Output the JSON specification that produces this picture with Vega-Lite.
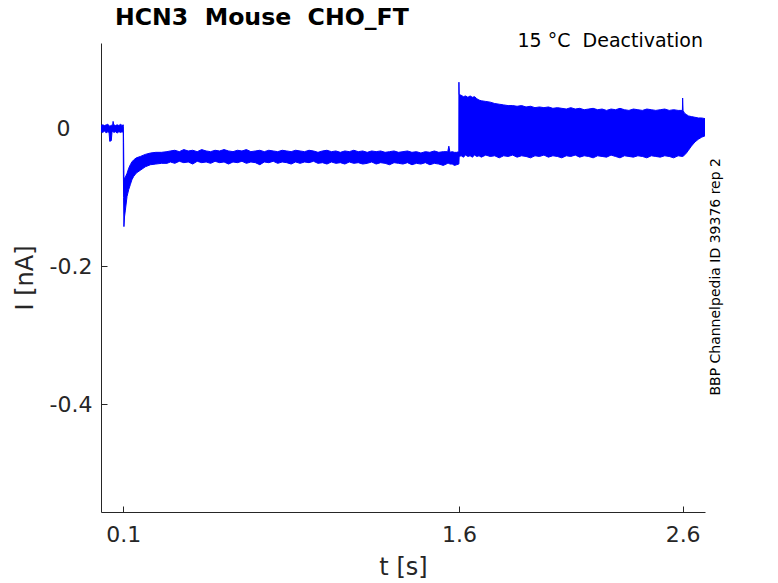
{
  "$schema": "https://vega.github.io/schema/vega-lite/v6.json",
  "width": 604,
  "height": 469,
  "autosize": "none",
  "padding": {"left": 101, "top": 43, "right": 73, "bottom": 71},
  "background": "white",
  "config": {
    "view": {"stroke": null},
    "font": "DejaVu Sans",
    "axis": {
      "grid": false,
      "domainColor": "#262626",
      "tickColor": "#262626",
      "labelColor": "#262626",
      "titleColor": "#262626",
      "labelFontSize": 22,
      "titleFontSize": 24,
      "titleFontWeight": "normal",
      "labelFlush": false,
      "tickSize": -6
    }
  },
  "title": {
    "text": "HCN3\u00a0 Mouse\u00a0 CHO_FT",
    "frame": "group",
    "anchor": "start",
    "dx": 14,
    "dy": 20,
    "offset": 3,
    "baseline": "alphabetic",
    "fontSize": 23.6,
    "fontWeight": "bold",
    "color": "#000000"
  },
  "datasets": {
    "trace": [
      {"t": 0.000, "lo": -0.004, "hi": 0.005},
      {"t": 0.008, "lo": -0.005, "hi": 0.006},
      {"t": 0.016, "lo": -0.003, "hi": 0.005},
      {"t": 0.024, "lo": -0.006, "hi": 0.006},
      {"t": 0.030, "lo": -0.004, "hi": 0.007},
      {"t": 0.036, "lo": -0.005, "hi": 0.005},
      {"t": 0.039, "lo": -0.018, "hi": 0.004},
      {"t": 0.046, "lo": -0.017, "hi": 0.005},
      {"t": 0.049, "lo": -0.005, "hi": 0.006},
      {"t": 0.052, "lo": -0.004, "hi": 0.005},
      {"t": 0.054, "lo": -0.004, "hi": 0.011},
      {"t": 0.057, "lo": -0.005, "hi": 0.006},
      {"t": 0.065, "lo": -0.004, "hi": 0.005},
      {"t": 0.072, "lo": -0.006, "hi": 0.006},
      {"t": 0.080, "lo": -0.004, "hi": 0.005},
      {"t": 0.088, "lo": -0.005, "hi": 0.007},
      {"t": 0.094, "lo": -0.004, "hi": 0.005},
      {"t": 0.0995, "lo": -0.005, "hi": 0.006},
      {"t": 0.100, "lo": -0.060, "hi": 0.004},
      {"t": 0.101, "lo": -0.100, "hi": -0.020},
      {"t": 0.1025, "lo": -0.142, "hi": -0.070},
      {"t": 0.105, "lo": -0.128, "hi": -0.072},
      {"t": 0.109, "lo": -0.118, "hi": -0.070},
      {"t": 0.1165, "lo": -0.098, "hi": -0.0645},
      {"t": 0.124, "lo": -0.088, "hi": -0.057},
      {"t": 0.131, "lo": -0.081, "hi": -0.052},
      {"t": 0.138, "lo": -0.074, "hi": -0.048},
      {"t": 0.146, "lo": -0.069, "hi": -0.045},
      {"t": 0.158, "lo": -0.064, "hi": -0.042},
      {"t": 0.176, "lo": -0.060, "hi": -0.040},
      {"t": 0.198, "lo": -0.055, "hi": -0.037},
      {"t": 0.221, "lo": -0.052, "hi": -0.035},
      {"t": 0.245, "lo": -0.051, "hi": -0.034},
      {"t": 0.270, "lo": -0.050, "hi": -0.034},
      {"t": 0.295, "lo": -0.050, "hi": -0.033},
      {"t": 0.31, "lo": -0.048, "hi": -0.032},
      {"t": 0.33, "lo": -0.050, "hi": -0.031},
      {"t": 0.35, "lo": -0.047, "hi": -0.033},
      {"t": 0.37, "lo": -0.049, "hi": -0.030},
      {"t": 0.39, "lo": -0.048, "hi": -0.032},
      {"t": 0.41, "lo": -0.051, "hi": -0.031},
      {"t": 0.43, "lo": -0.047, "hi": -0.033},
      {"t": 0.45, "lo": -0.049, "hi": -0.030},
      {"t": 0.47, "lo": -0.048, "hi": -0.032},
      {"t": 0.49, "lo": -0.050, "hi": -0.033},
      {"t": 0.51, "lo": -0.047, "hi": -0.031},
      {"t": 0.53, "lo": -0.049, "hi": -0.032},
      {"t": 0.55, "lo": -0.048, "hi": -0.030},
      {"t": 0.57, "lo": -0.051, "hi": -0.032},
      {"t": 0.59, "lo": -0.048, "hi": -0.033},
      {"t": 0.61, "lo": -0.049, "hi": -0.031},
      {"t": 0.63, "lo": -0.047, "hi": -0.032},
      {"t": 0.65, "lo": -0.050, "hi": -0.030},
      {"t": 0.67, "lo": -0.048, "hi": -0.033},
      {"t": 0.69, "lo": -0.049, "hi": -0.032},
      {"t": 0.71, "lo": -0.052, "hi": -0.031},
      {"t": 0.73, "lo": -0.048, "hi": -0.033},
      {"t": 0.75, "lo": -0.049, "hi": -0.031},
      {"t": 0.77, "lo": -0.047, "hi": -0.032},
      {"t": 0.79, "lo": -0.050, "hi": -0.033},
      {"t": 0.81, "lo": -0.048, "hi": -0.031},
      {"t": 0.83, "lo": -0.049, "hi": -0.032},
      {"t": 0.85, "lo": -0.051, "hi": -0.033},
      {"t": 0.87, "lo": -0.048, "hi": -0.031},
      {"t": 0.89, "lo": -0.050, "hi": -0.032},
      {"t": 0.91, "lo": -0.048, "hi": -0.033},
      {"t": 0.93, "lo": -0.049, "hi": -0.031},
      {"t": 0.95, "lo": -0.047, "hi": -0.032},
      {"t": 0.97, "lo": -0.050, "hi": -0.034},
      {"t": 0.99, "lo": -0.049, "hi": -0.032},
      {"t": 1.01, "lo": -0.051, "hi": -0.031},
      {"t": 1.03, "lo": -0.048, "hi": -0.033},
      {"t": 1.05, "lo": -0.050, "hi": -0.032},
      {"t": 1.07, "lo": -0.049, "hi": -0.034},
      {"t": 1.09, "lo": -0.051, "hi": -0.032},
      {"t": 1.11, "lo": -0.048, "hi": -0.033},
      {"t": 1.13, "lo": -0.050, "hi": -0.031},
      {"t": 1.15, "lo": -0.049, "hi": -0.033},
      {"t": 1.17, "lo": -0.051, "hi": -0.032},
      {"t": 1.19, "lo": -0.050, "hi": -0.034},
      {"t": 1.21, "lo": -0.048, "hi": -0.032},
      {"t": 1.23, "lo": -0.051, "hi": -0.033},
      {"t": 1.25, "lo": -0.049, "hi": -0.032},
      {"t": 1.27, "lo": -0.050, "hi": -0.034},
      {"t": 1.29, "lo": -0.052, "hi": -0.033},
      {"t": 1.31, "lo": -0.049, "hi": -0.032},
      {"t": 1.33, "lo": -0.050, "hi": -0.034},
      {"t": 1.35, "lo": -0.051, "hi": -0.033},
      {"t": 1.37, "lo": -0.049, "hi": -0.032},
      {"t": 1.39, "lo": -0.052, "hi": -0.034},
      {"t": 1.41, "lo": -0.050, "hi": -0.033},
      {"t": 1.43, "lo": -0.051, "hi": -0.035},
      {"t": 1.45, "lo": -0.049, "hi": -0.033},
      {"t": 1.47, "lo": -0.052, "hi": -0.034},
      {"t": 1.49, "lo": -0.050, "hi": -0.032},
      {"t": 1.51, "lo": -0.051, "hi": -0.034},
      {"t": 1.53, "lo": -0.053, "hi": -0.033},
      {"t": 1.55, "lo": -0.050, "hi": -0.033},
      {"t": 1.555, "lo": -0.050, "hi": -0.025},
      {"t": 1.56, "lo": -0.051, "hi": -0.034},
      {"t": 1.57, "lo": -0.051, "hi": -0.033},
      {"t": 1.58, "lo": -0.053, "hi": -0.034},
      {"t": 1.59, "lo": -0.052, "hi": -0.034},
      {"t": 1.5995, "lo": -0.051, "hi": -0.033},
      {"t": 1.600, "lo": -0.050, "hi": 0.068},
      {"t": 1.601, "lo": -0.040, "hi": 0.050},
      {"t": 1.61, "lo": -0.039, "hi": 0.049},
      {"t": 1.62, "lo": -0.041, "hi": 0.047},
      {"t": 1.63, "lo": -0.038, "hi": 0.048},
      {"t": 1.64, "lo": -0.040, "hi": 0.046},
      {"t": 1.65, "lo": -0.039, "hi": 0.048},
      {"t": 1.66, "lo": -0.041, "hi": 0.046},
      {"t": 1.67, "lo": -0.038, "hi": 0.047},
      {"t": 1.68, "lo": -0.040, "hi": 0.044},
      {"t": 1.69, "lo": -0.039, "hi": 0.042},
      {"t": 1.70, "lo": -0.041, "hi": 0.041},
      {"t": 1.72, "lo": -0.038, "hi": 0.040},
      {"t": 1.74, "lo": -0.040, "hi": 0.039},
      {"t": 1.76, "lo": -0.039, "hi": 0.037},
      {"t": 1.78, "lo": -0.042, "hi": 0.036},
      {"t": 1.80, "lo": -0.039, "hi": 0.035},
      {"t": 1.82, "lo": -0.040, "hi": 0.034},
      {"t": 1.84, "lo": -0.038, "hi": 0.034},
      {"t": 1.86, "lo": -0.041, "hi": 0.033},
      {"t": 1.88, "lo": -0.039, "hi": 0.034},
      {"t": 1.90, "lo": -0.040, "hi": 0.032},
      {"t": 1.92, "lo": -0.042, "hi": 0.033},
      {"t": 1.94, "lo": -0.039, "hi": 0.031},
      {"t": 1.96, "lo": -0.040, "hi": 0.032},
      {"t": 1.98, "lo": -0.038, "hi": 0.031},
      {"t": 2.00, "lo": -0.041, "hi": 0.032},
      {"t": 2.02, "lo": -0.039, "hi": 0.030},
      {"t": 2.04, "lo": -0.040, "hi": 0.031},
      {"t": 2.06, "lo": -0.042, "hi": 0.030},
      {"t": 2.08, "lo": -0.039, "hi": 0.029},
      {"t": 2.10, "lo": -0.040, "hi": 0.031},
      {"t": 2.12, "lo": -0.038, "hi": 0.029},
      {"t": 2.14, "lo": -0.041, "hi": 0.030},
      {"t": 2.16, "lo": -0.039, "hi": 0.028},
      {"t": 2.18, "lo": -0.040, "hi": 0.029},
      {"t": 2.20, "lo": -0.042, "hi": 0.030},
      {"t": 2.22, "lo": -0.039, "hi": 0.028},
      {"t": 2.24, "lo": -0.040, "hi": 0.029},
      {"t": 2.26, "lo": -0.041, "hi": 0.027},
      {"t": 2.28, "lo": -0.038, "hi": 0.029},
      {"t": 2.30, "lo": -0.040, "hi": 0.028},
      {"t": 2.32, "lo": -0.042, "hi": 0.030},
      {"t": 2.34, "lo": -0.039, "hi": 0.028},
      {"t": 2.36, "lo": -0.040, "hi": 0.027},
      {"t": 2.38, "lo": -0.041, "hi": 0.029},
      {"t": 2.40, "lo": -0.039, "hi": 0.028},
      {"t": 2.42, "lo": -0.040, "hi": 0.027},
      {"t": 2.44, "lo": -0.042, "hi": 0.029},
      {"t": 2.46, "lo": -0.039, "hi": 0.028},
      {"t": 2.48, "lo": -0.040, "hi": 0.027},
      {"t": 2.50, "lo": -0.041, "hi": 0.028},
      {"t": 2.52, "lo": -0.039, "hi": 0.029},
      {"t": 2.54, "lo": -0.040, "hi": 0.027},
      {"t": 2.56, "lo": -0.042, "hi": 0.028},
      {"t": 2.58, "lo": -0.039, "hi": 0.027},
      {"t": 2.599, "lo": -0.040, "hi": 0.027},
      {"t": 2.600, "lo": -0.040, "hi": 0.045},
      {"t": 2.602, "lo": -0.040, "hi": 0.027},
      {"t": 2.608, "lo": -0.038, "hi": 0.023},
      {"t": 2.617, "lo": -0.035, "hi": 0.021},
      {"t": 2.626, "lo": -0.031, "hi": 0.019},
      {"t": 2.639, "lo": -0.025, "hi": 0.018},
      {"t": 2.655, "lo": -0.019, "hi": 0.017},
      {"t": 2.670, "lo": -0.015, "hi": 0.016},
      {"t": 2.685, "lo": -0.012, "hi": 0.016},
      {"t": 2.700, "lo": -0.010, "hi": 0.015}
    ],
    "notes": [
      {"t": 2.7, "v": 0.125, "label": "15 °C\u00a0 Deactivation"}
    ],
    "side": [
      {"t": 2.7, "v": -0.215, "label": "BBP Channelpedia ID 39376 rep 2"}
    ]
  },
  "layer": [
    {
      "data": {"name": "trace"},
      "mark": {"type": "area", "color": "#0000ff", "stroke": "#0000ff", "strokeWidth": 1, "clip": true},
      "encoding": {
        "x": {
          "field": "t",
          "type": "quantitative",
          "scale": {"domain": [0, 2.7], "nice": false, "zero": false},
          "axis": {"values": [0.1, 1.6, 2.6], "title": "t [s]", "labelPadding": 18, "titlePadding": 10}
        },
        "y": {
          "field": "lo",
          "type": "quantitative",
          "scale": {"domain": [-0.557, 0.125], "nice": false, "zero": false},
          "axis": {
            "values": [-0.4, -0.2, 0],
            "labelExpr": "'' + datum.value",
            "title": "I [nA]",
            "labelPadding": {"condition": {"test": "datum.value == 0", "value": 37}, "value": 15},
            "titlePadding": 12
          }
        },
        "y2": {"field": "hi"}
      }
    },
    {
      "data": {"name": "notes"},
      "mark": {"type": "text", "align": "right", "baseline": "middle", "dx": -2, "dy": -2, "fontSize": 19, "color": "#000000"},
      "encoding": {
        "x": {"field": "t", "type": "quantitative"},
        "y": {"field": "v", "type": "quantitative"},
        "text": {"field": "label"}
      }
    },
    {
      "data": {"name": "side"},
      "mark": {"type": "text", "align": "center", "baseline": "middle", "angle": 270, "dy": 11, "fontSize": 14, "color": "#000000"},
      "encoding": {
        "x": {"field": "t", "type": "quantitative"},
        "y": {"field": "v", "type": "quantitative"},
        "text": {"field": "label"}
      }
    }
  ]
}
